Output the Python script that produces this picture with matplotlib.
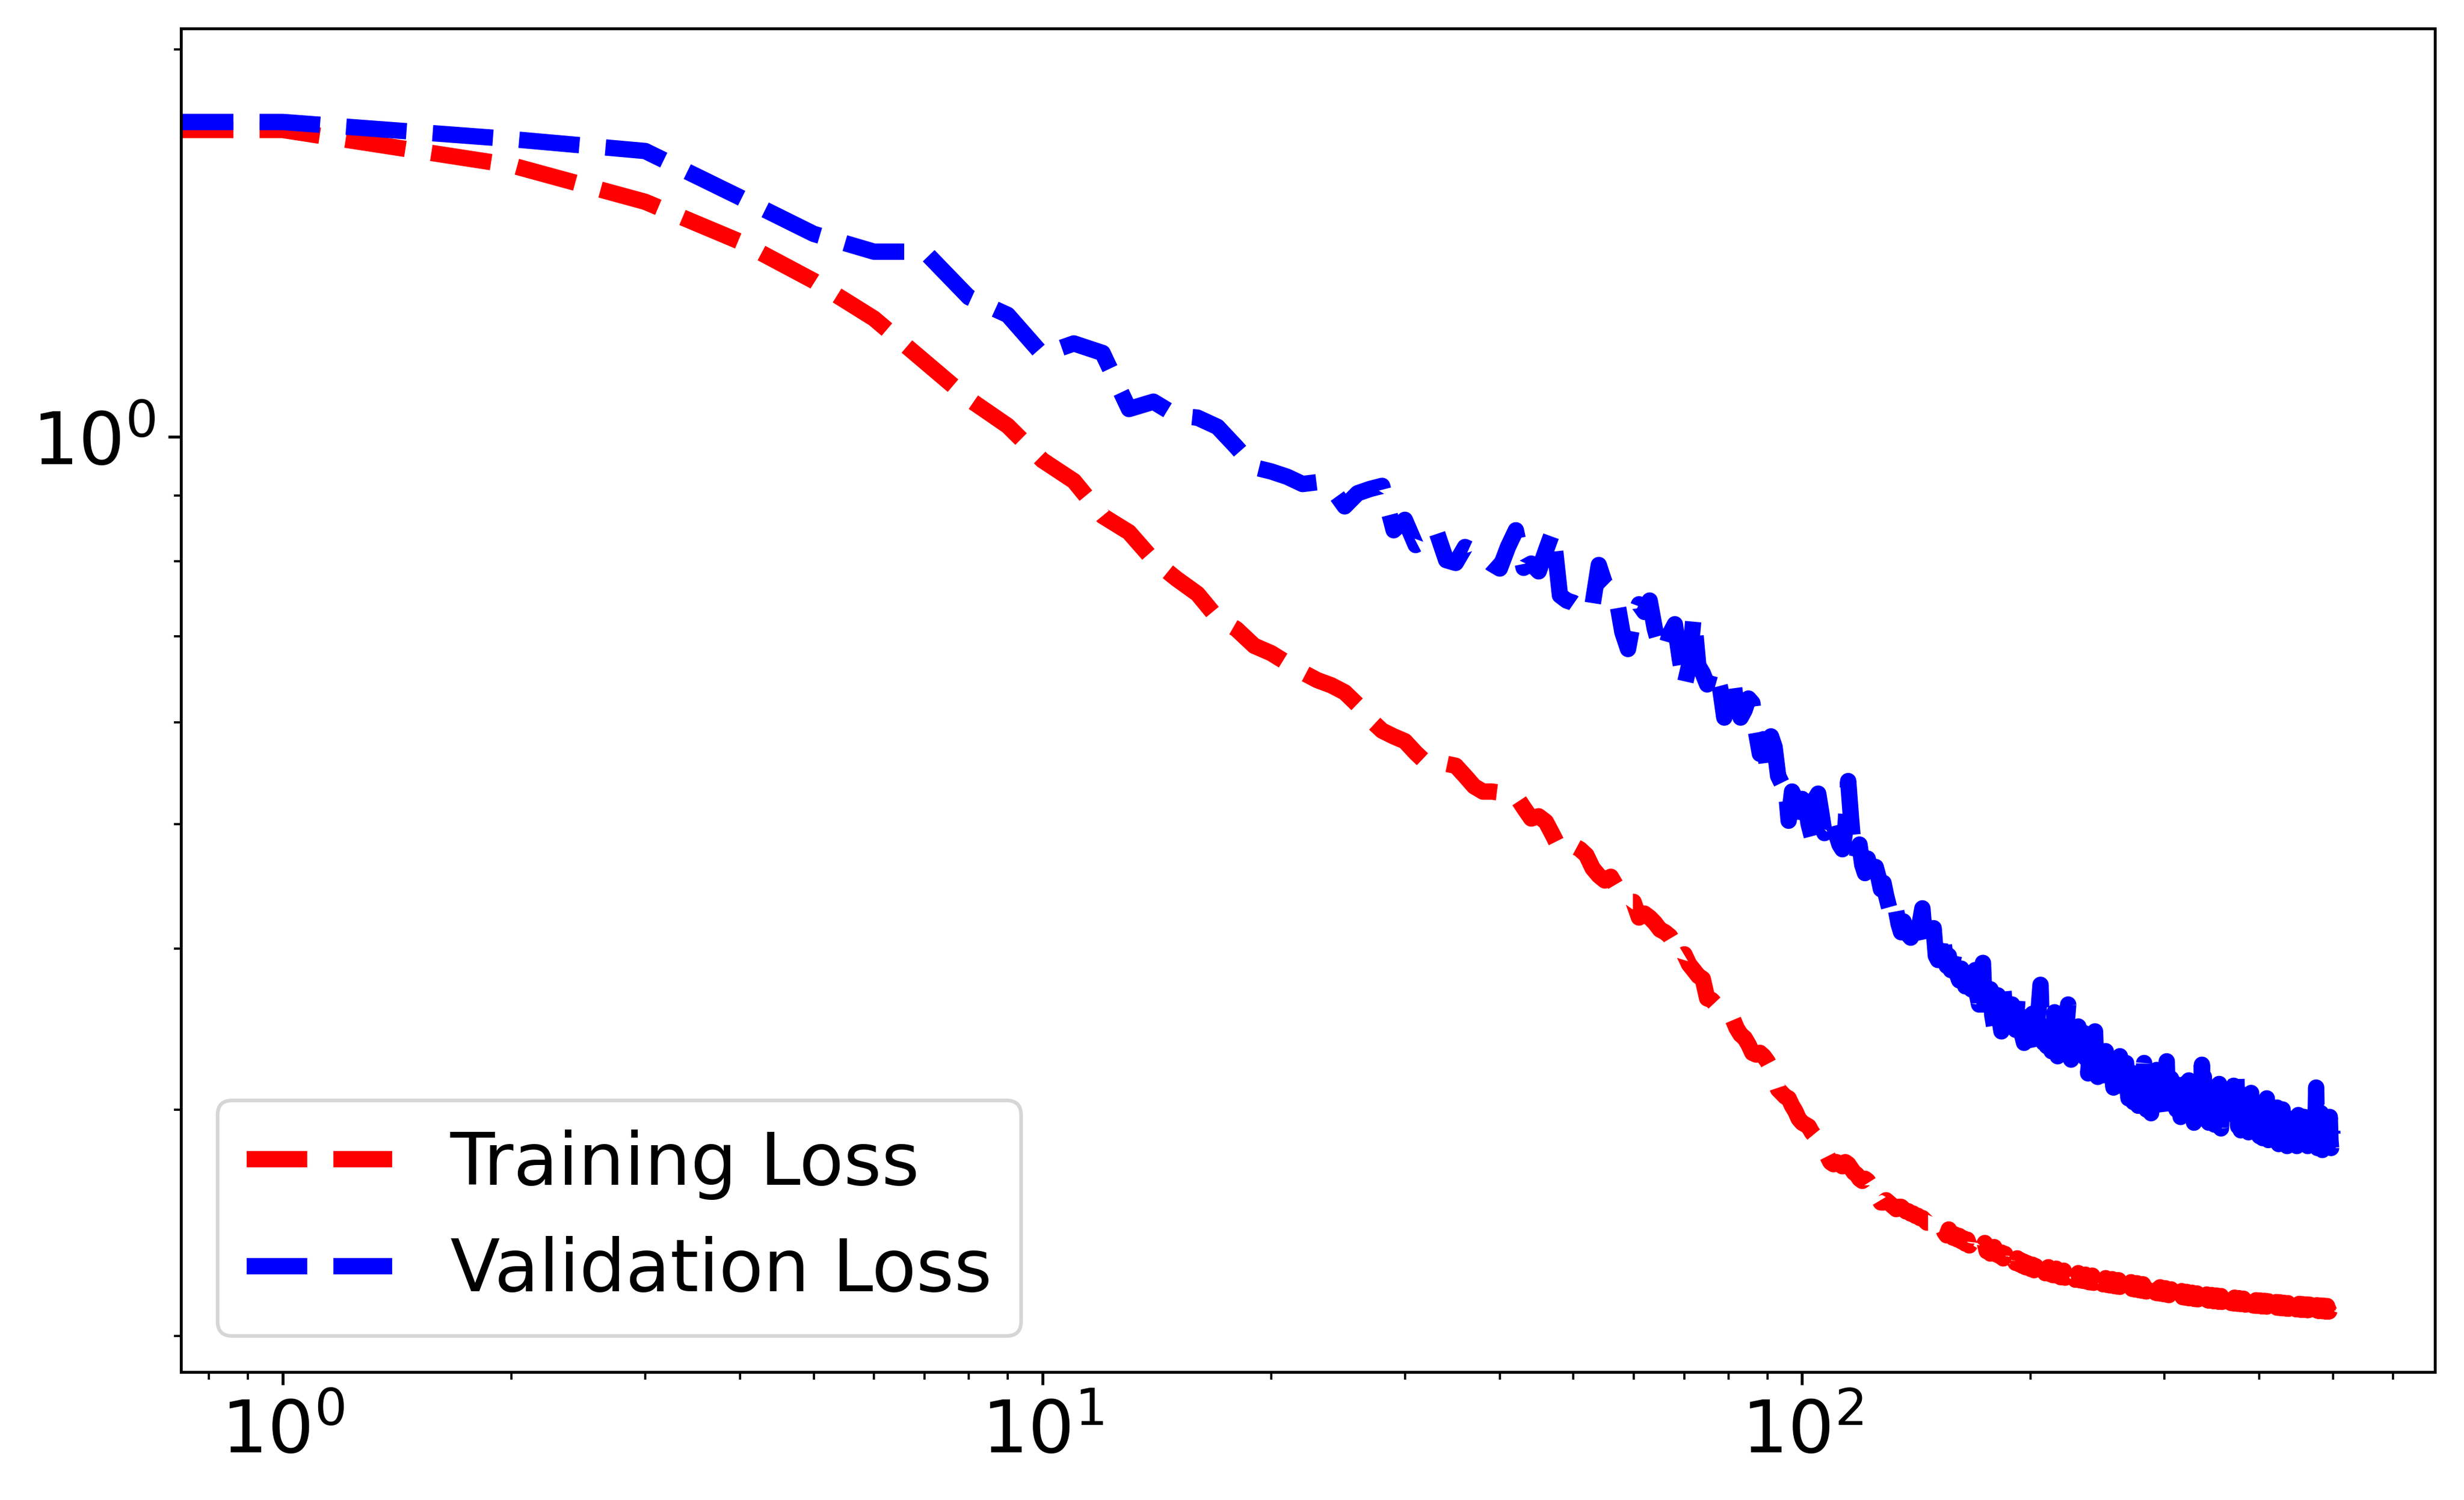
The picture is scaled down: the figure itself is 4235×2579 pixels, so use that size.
import numpy as np
import matplotlib.pyplot as plt


# training / validation loss per epoch
epochs = np.arange(0, 500)

train_loss = [
    1.800,
    1.732, 1.626, 1.523, 1.418, 1.322, 1.236, 1.144, 1.070, 1.020, 0.959,
    0.924, 0.868, 0.843, 0.802, 0.776, 0.755, 0.723, 0.709, 0.688, 0.679,
    0.667, 0.656, 0.647, 0.641, 0.633, 0.619, 0.603, 0.591, 0.585, 0.580,
    0.568, 0.558, 0.558, 0.557, 0.555, 0.545, 0.535, 0.530, 0.530, 0.529,
    0.530, 0.526, 0.515, 0.505, 0.507, 0.502, 0.490, 0.478, 0.480, 0.481,
    0.478, 0.473, 0.462, 0.456, 0.452, 0.455, 0.447, 0.440, 0.435, 0.435,
    0.423, 0.426, 0.423, 0.419, 0.414, 0.412, 0.409, 0.403, 0.394, 0.396,
    0.389, 0.385, 0.381, 0.379, 0.366, 0.365, 0.362, 0.358, 0.355, 0.354,
    0.353, 0.347, 0.343, 0.341, 0.337, 0.332, 0.331, 0.332, 0.330, 0.327,
    0.323, 0.317, 0.311, 0.309, 0.307, 0.306, 0.302, 0.299, 0.295, 0.293,
    0.292, 0.291, 0.288, 0.286, 0.285, 0.282, 0.279, 0.276, 0.273, 0.272,
    0.273, 0.272, 0.271, 0.273, 0.272, 0.270, 0.268, 0.267, 0.265, 0.264,
    0.265, 0.264, 0.262, 0.261, 0.255, 0.256, 0.254, 0.254, 0.255, 0.254,
    0.253, 0.252, 0.251, 0.252, 0.252, 0.251, 0.250, 0.250, 0.249, 0.249,
    0.248, 0.248, 0.247, 0.247, 0.246, 0.245, 0.245, 0.244, 0.244, 0.243,
    0.2440, 0.2418, 0.2432, 0.2408, 0.2395, 0.2420, 0.2402, 0.2385, 0.2398, 0.2378,
    0.2392, 0.2370, 0.2382, 0.2360, 0.2376, 0.2352, 0.2366, 0.2372, 0.2348, 0.2340,
    0.2358, 0.2335, 0.2344, 0.2362, 0.2328, 0.2338, 0.2318, 0.2332, 0.2345, 0.2315,
    0.2325, 0.2308, 0.2322, 0.2298, 0.2316, 0.2290, 0.2305, 0.2318, 0.2286, 0.2296,
    0.2280, 0.2298, 0.2275, 0.2290, 0.2268, 0.2284, 0.2262, 0.2278, 0.2270, 0.2255,
    0.2272, 0.2250, 0.2266, 0.2245, 0.2260, 0.2276, 0.2242, 0.2255, 0.2238, 0.2252,
    0.2262, 0.2235, 0.2248, 0.2230, 0.2245, 0.2256, 0.2228, 0.2240, 0.2222, 0.2236,
    0.2248, 0.2220, 0.2234, 0.2218, 0.2230, 0.2242, 0.2215, 0.2228, 0.2212, 0.2226,
    0.2238, 0.2210, 0.2224, 0.2208, 0.2220, 0.2232, 0.2205, 0.2218, 0.2202, 0.2215,
    0.2228, 0.2200, 0.2214, 0.2198, 0.2210, 0.2222, 0.2196, 0.2208, 0.2194, 0.2205,
    0.2218, 0.2192, 0.2204, 0.2190, 0.2202, 0.2214, 0.2188, 0.2200, 0.2186, 0.2198,
    0.2210, 0.2184, 0.2196, 0.2182, 0.2194, 0.2206, 0.2180, 0.2192, 0.2178, 0.2190,
    0.2202, 0.2176, 0.2188, 0.2174, 0.2186, 0.2198, 0.2172, 0.2184, 0.2170, 0.2182,
    0.2194, 0.2168, 0.2180, 0.2166, 0.2178, 0.2190, 0.2165, 0.2176, 0.2163, 0.2174,
    0.2186, 0.2161, 0.2172, 0.2159, 0.2170, 0.2182, 0.2158, 0.2168, 0.2156, 0.2166,
    0.2178, 0.2154, 0.2164, 0.2152, 0.2162, 0.2174, 0.2150, 0.2160, 0.2149, 0.2158,
    0.2170, 0.2147, 0.2156, 0.2146, 0.2155, 0.2167, 0.2144, 0.2153, 0.2143, 0.2152,
    0.2164, 0.2141, 0.2150, 0.2140, 0.2149, 0.2161, 0.2139, 0.2148, 0.2137, 0.2146,
    0.2158, 0.2136, 0.2145, 0.2135, 0.2144, 0.2156, 0.2134, 0.2143, 0.2133, 0.2142,
    0.2154, 0.2132, 0.2141, 0.2131, 0.2140, 0.2152, 0.2130, 0.2139, 0.2129, 0.2138,
    0.2150, 0.2128, 0.2137, 0.2127, 0.2136, 0.2148, 0.2126, 0.2135, 0.2125, 0.2134,
    0.2146, 0.2124, 0.2133, 0.2123, 0.2132, 0.2144, 0.2122, 0.2131, 0.2121, 0.2130,
    0.2142, 0.2120, 0.2129, 0.2119, 0.2128, 0.2140, 0.2119, 0.2127, 0.2118, 0.2126,
    0.2138, 0.2117, 0.2125, 0.2116, 0.2124, 0.2136, 0.2115, 0.2123, 0.2114, 0.2122,
    0.2134, 0.2113, 0.2121, 0.2112, 0.2120, 0.2132, 0.2112, 0.2120, 0.2111, 0.2119,
    0.2131, 0.2110, 0.2119, 0.2109, 0.2118, 0.2130, 0.2109, 0.2117, 0.2108, 0.2116,
    0.2128, 0.2107, 0.2116, 0.2106, 0.2115, 0.2127, 0.2106, 0.2114, 0.2105, 0.2113,
    0.2125, 0.2104, 0.2113, 0.2104, 0.2112, 0.2124, 0.2103, 0.2111, 0.2102, 0.2110,
    0.2122, 0.2102, 0.2110, 0.2101, 0.2109, 0.2121, 0.2100, 0.2109, 0.2100, 0.2108,
    0.2120, 0.2099, 0.2108, 0.2099, 0.2107, 0.2119, 0.2098, 0.2106, 0.2098, 0.2106,
    0.2118, 0.2097, 0.2105, 0.2097, 0.2105, 0.2117, 0.2096, 0.2104, 0.2096, 0.2104,
    0.2116, 0.2095, 0.2103, 0.2095, 0.2103, 0.2115, 0.2094, 0.2102, 0.2094, 0.2102,
    0.2114, 0.2094, 0.2101, 0.2093, 0.2101, 0.2113, 0.2093, 0.2100, 0.2092, 0.2100,
    0.2112, 0.2092, 0.2099, 0.2091, 0.2099, 0.2111, 0.2091, 0.2098, 0.2090, 0.2098,
    0.2110, 0.2090, 0.2097, 0.2090, 0.2097, 0.2109, 0.2090, 0.2096, 0.2100,
]

val_loss = [
    1.862,
    1.757, 1.704, 1.668, 1.535, 1.438, 1.393, 1.393, 1.284, 1.244, 1.159,
    1.182, 1.162, 1.051, 1.065, 1.039, 1.035, 1.018, 0.982, 0.947, 0.940,
    0.931, 0.919, 0.922, 0.913, 0.883, 0.904, 0.911, 0.916, 0.846, 0.862,
    0.824, 0.832, 0.845, 0.802, 0.798, 0.821, 0.815, 0.808, 0.797, 0.790,
    0.821, 0.846, 0.791, 0.797, 0.786, 0.816, 0.845, 0.753, 0.746, 0.743,
    0.737, 0.731, 0.741, 0.795, 0.769, 0.761, 0.748, 0.705, 0.684, 0.722,
    0.741, 0.731, 0.746, 0.709, 0.686, 0.682, 0.703, 0.715, 0.673, 0.640,
    0.664, 0.726, 0.664, 0.655, 0.642, 0.660, 0.657, 0.638, 0.605, 0.647,
    0.651, 0.617, 0.605, 0.613, 0.626, 0.621, 0.589, 0.567, 0.582, 0.552,
    0.585, 0.574, 0.545, 0.538, 0.541, 0.503, 0.530, 0.523, 0.500, 0.523,
    0.520, 0.500, 0.489, 0.523, 0.528, 0.510, 0.492, 0.495, 0.488, 0.500,
    0.490, 0.482, 0.478, 0.495, 0.540, 0.505, 0.476, 0.470, 0.482, 0.465,
    0.458, 0.470, 0.460, 0.452, 0.463, 0.455, 0.445, 0.450, 0.440, 0.432,
    0.425, 0.420, 0.428, 0.418, 0.412, 0.420, 0.415, 0.410, 0.408, 0.418,
    0.405, 0.412, 0.420, 0.430, 0.410, 0.402, 0.398, 0.405, 0.415, 0.395,
    0.392, 0.405, 0.413, 0.398, 0.388, 0.395, 0.385, 0.392, 0.400, 0.382,
    0.378, 0.386, 0.380, 0.374, 0.390, 0.383, 0.372, 0.378, 0.385, 0.368,
    0.362, 0.375, 0.390, 0.358, 0.350, 0.366, 0.372, 0.355, 0.348, 0.360,
    0.368, 0.352, 0.345, 0.372, 0.360, 0.350, 0.356, 0.343, 0.362, 0.353,
    0.346, 0.365, 0.370, 0.350, 0.342, 0.338, 0.355, 0.360, 0.344, 0.349,
    0.356, 0.340, 0.335, 0.352, 0.361, 0.375, 0.343, 0.338, 0.348, 0.336,
    0.345, 0.352, 0.333, 0.340, 0.357, 0.346, 0.330, 0.338, 0.349, 0.335,
    0.343, 0.332, 0.350, 0.362, 0.340, 0.328, 0.336, 0.345, 0.327, 0.341,
    0.348, 0.330, 0.322, 0.337, 0.344, 0.329, 0.335, 0.320, 0.331, 0.339,
    0.326, 0.333, 0.345, 0.322, 0.318, 0.330, 0.338, 0.325, 0.319, 0.328,
    0.333, 0.322, 0.316, 0.328, 0.328, 0.318, 0.312, 0.326, 0.320, 0.313,
    0.322, 0.330, 0.315, 0.309, 0.318, 0.326, 0.326, 0.312, 0.306, 0.317,
    0.323, 0.310, 0.304, 0.315, 0.320, 0.308, 0.302, 0.316, 0.311, 0.305,
    0.318, 0.326, 0.307, 0.300, 0.312, 0.319, 0.305, 0.298, 0.310, 0.316,
    0.303, 0.311, 0.322, 0.306, 0.299, 0.313, 0.318, 0.302, 0.297, 0.309,
    0.315, 0.327, 0.304, 0.298, 0.310, 0.317, 0.301, 0.295, 0.308, 0.314,
    0.300, 0.306, 0.319, 0.303, 0.296, 0.311, 0.307, 0.299, 0.314, 0.302,
    0.294, 0.309, 0.316, 0.300, 0.297, 0.312, 0.304, 0.293, 0.306, 0.320,
    0.302, 0.296, 0.311, 0.305, 0.298, 0.325, 0.308, 0.318, 0.295, 0.303,
    0.310, 0.299, 0.293, 0.307, 0.301, 0.296, 0.312, 0.304, 0.292, 0.300,
    0.308, 0.297, 0.303, 0.314, 0.295, 0.290, 0.305, 0.299, 0.309, 0.294,
    0.301, 0.311, 0.296, 0.290, 0.304, 0.298, 0.307, 0.292, 0.300, 0.313,
    0.297, 0.305, 0.318, 0.300, 0.291, 0.303, 0.296, 0.289, 0.302, 0.308,
    0.294, 0.299, 0.306, 0.290, 0.297, 0.303, 0.288, 0.295, 0.301, 0.309,
    0.293, 0.287, 0.298, 0.304, 0.291, 0.296, 0.289, 0.300, 0.294, 0.286,
    0.297, 0.303, 0.290, 0.285, 0.295, 0.300, 0.288, 0.293, 0.306, 0.291,
    0.284, 0.294, 0.299, 0.287, 0.292, 0.298, 0.283, 0.290, 0.296, 0.286,
    0.293, 0.301, 0.288, 0.282, 0.291, 0.297, 0.285, 0.290, 0.300, 0.287,
    0.283, 0.292, 0.296, 0.286, 0.281, 0.289, 0.295, 0.284, 0.290, 0.298,
    0.287, 0.282, 0.293, 0.289, 0.284, 0.296, 0.288, 0.281, 0.292, 0.297,
    0.285, 0.290, 0.283, 0.294, 0.288, 0.280, 0.291, 0.296, 0.284, 0.289,
    0.299, 0.286, 0.281, 0.293, 0.287, 0.282, 0.295, 0.289, 0.284, 0.292,
    0.297, 0.285, 0.281, 0.290, 0.312, 0.288, 0.280, 0.293, 0.286, 0.283,
    0.291, 0.298, 0.284, 0.279, 0.289, 0.295, 0.283, 0.290, 0.286, 0.281,
    0.294, 0.288, 0.282, 0.290, 0.296, 0.284, 0.280, 0.291, 0.287,
]


fig = plt.figure(figsize=(4235 / 450, 2579 / 450), dpi=450)
ax = fig.add_axes([311 / 4235, 1 - 2359 / 2579, 3874 / 4235, 2310 / 2579])

ax.plot(epochs, train_loss, 'r--', linewidth=4.5, label='Training Loss')
ax.plot(epochs, val_loss, 'b--', linewidth=4.5, label='Validation Loss')

ax.set_xscale('log')
ax.set_yscale('log')
ax.set_xlim(10 ** -0.134, 10 ** 2.833)
ax.set_ylim(0.1875, 2.077)
ax.tick_params(labelsize=20)
ax.legend(loc='lower left', fontsize=20)

plt.savefig('out.png', dpi=450)
